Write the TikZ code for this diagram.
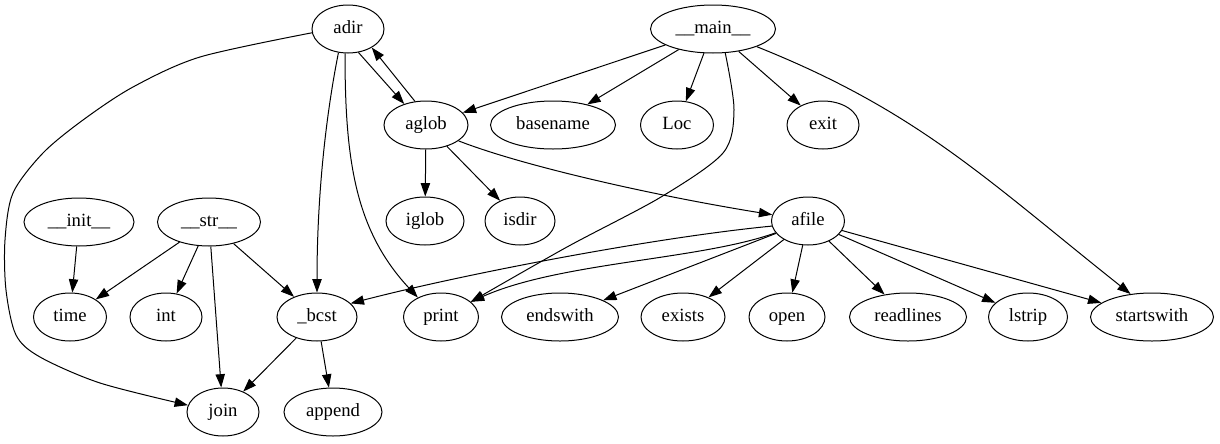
\documentclass[tikz,border=0pt]{standalone}
\usepackage{fontspec}
\setmainfont{Liberation Serif}
\usetikzlibrary{shapes.geometric, arrows.meta, positioning}

\begin{document}
\begin{tikzpicture}[x=0.75pt, y=-0.75pt, line width=0.75pt,
		>={Triangle[length=10pt,width=7pt]},
		func/.style={ellipse, draw, inner sep=0pt, minimum height=36pt,
			minimum width=#1*0.75pt, text height=10pt, text depth=3pt,
			font=\fontsize{14}{16}\selectfont}]
		\useasboundingbox (0,0) rectangle (1220,443);
		\foreach \n/\x/\y/\w/\t in {
			adir/348/29/72/adir,
			main/713/29/125/\_\_main\_\_,
			aglob/426/125/84/aglob,
			basename/553/125/125/basename,
			Loc/677/125/73/Loc,
			exit/823/125/72/exit,
			init/79/222/110/\_\_init\_\_,
			str/209/222/103/\_\_str\_\_,
			iglob/425/221/78/iglob,
			isdir/520/221/70/isdir,
			afile/808/221/73/afile,
			time/70/317/73/time,
			int/166/317/72/int,
			bcst/317/317/80/\_bcst,
			print/441/317/75/print,
			endswith/560/317/117/endswith,
			exists/683/317/84/exists,
			open/787/317/76/open,
			readlines/908/317/117/readlines,
			lstrip/1028/317/79/lstrip,
			startswith/1152/317/123/startswith,
			join/223/412/72/join,
			append/333/412/98/append}{
			\node[func=\w] (\n) at (\x,\y) {\t};
		}
		% straight calls
		\foreach \a/\b in {main/aglob, main/basename, main/Loc, main/exit,
			aglob/iglob, aglob/isdir, init/time, str/time, str/int, str/join,
			str/bcst, bcst/join, bcst/append, afile/endswith, afile/exists,
			afile/open, afile/readlines, afile/lstrip, afile/startswith}{
			\draw[->] (\a) -- (\b);
		}
		% adir and aglob call each other
		\draw[->] (adir.-66) -- (aglob.136);
		\draw[->] (aglob.115) -- (adir.-38);
		% curved calls
		\draw[->] (adir.-112) .. controls (325,120) and (317,200) .. (bcst.north);
		\draw[->] (adir.-97) .. controls (345,160) and (355,230) .. (print.140);
		\draw[->] (aglob.-26) .. controls (520,165) and (650,195) .. (afile.170);
		\draw[->] (afile.188) .. controls (650,238) and (460,275) .. (bcst.22);
		\draw[->] (afile.200) .. controls (700,260) and (560,262) .. (print.27);
		\draw[->] (main.-22) .. controls (918,111) and (987,180) .. (startswith.133);
		\draw[->] plot[smooth] coordinates {(adir.186) (200,57) (133,87) (83,120)
			(43,153) (13,193) (5,240) (6,290) (16,335) (40,357) (100,383) (join.169)};
		\draw[->] plot[smooth] coordinates {(main.-63) (734,110) (723,153)
			(661,197) (567,247) (print.27)};
	\end{tikzpicture}
\end{document}
